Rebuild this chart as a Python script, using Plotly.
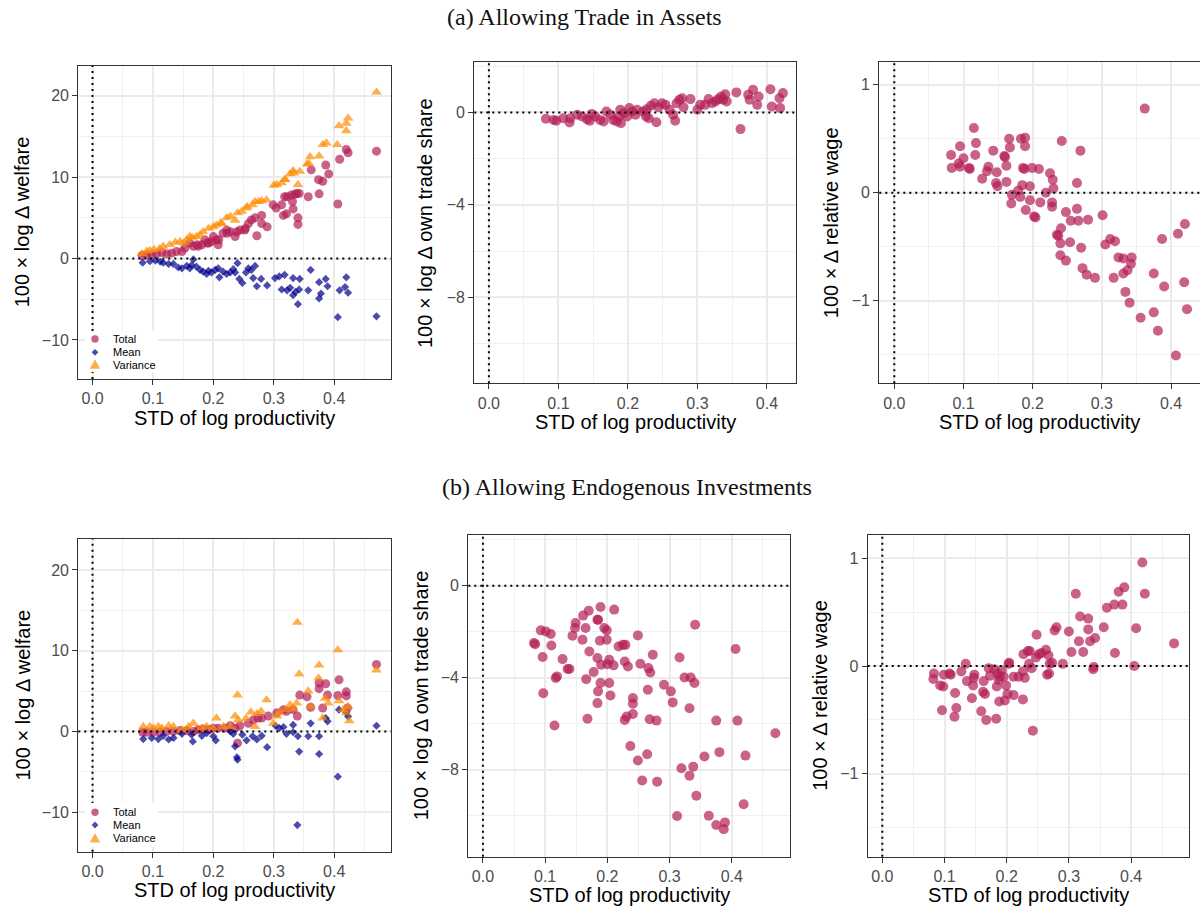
import plotly.graph_objects as go

W, H = 1200, 909

# ---------------- DATA ----------------
# (a) Allowing Trade in Assets -- welfare decomposition
a_wel_total_x = [0.47, 0.42, 0.423, 0.409, 0.406, 0.391, 0.386, 0.381, 0.374, 0.375, 0.362, 0.357,
                 0.34, 0.34, 0.342, 0.335, 0.329, 0.332, 0.331, 0.321, 0.316, 0.318, 0.313, 0.304,
                 0.299, 0.289, 0.28, 0.28, 0.272, 0.269, 0.263, 0.258, 0.252, 0.244, 0.239, 0.236,
                 0.228, 0.222, 0.216, 0.208, 0.205, 0.2, 0.197, 0.192, 0.186, 0.181, 0.175, 0.167,
                 0.161, 0.153, 0.148, 0.139, 0.131, 0.123, 0.115, 0.106, 0.098, 0.09, 0.082,
                 0.253, 0.223, 0.209, 0.19, 0.173, 0.338, 0.322]
a_wel_total_y = [13.2, 13.4, 13.0, 12.2, 6.7, 10.4, 11.5, 9.5, 9.7, 7.95, 10.9, 7.6,
                 4.2, 5.0, 8.0, 7.9, 7.8, 6.1, 7.0, 5.5, 5.3, 7.6, 6.6, 6.2,
                 6.6, 3.9, 5.3, 4.3, 2.8, 5.0, 4.75, 4.3, 3.5, 3.5, 3.3, 2.7,
                 3.3, 3.5, 3.1, 1.7, 2.3, 2.7, 2.1, 1.9, 2.3, 1.7, 1.5, 1.5,
                 1.9, 1.3, 0.86, 0.86, 0.66, 0.57, 0.74, 0.57, 0.49, 0.45, 0.37,
                 3.7, 3.1, 2.3, 1.9, 1.7, 8.0, 7.6]
a_wel_mean_x = [0.47, 0.406, 0.42, 0.418, 0.423, 0.409, 0.389, 0.386, 0.378, 0.375, 0.375, 0.361,
                0.357, 0.34, 0.342, 0.336, 0.332, 0.343, 0.332, 0.327, 0.318, 0.313, 0.322, 0.309,
                0.302, 0.289, 0.279, 0.272, 0.269, 0.266, 0.263, 0.258, 0.254, 0.248, 0.243, 0.24,
                0.236, 0.233, 0.228, 0.222, 0.216, 0.21, 0.208, 0.203, 0.197, 0.192, 0.189, 0.183,
                0.178, 0.172, 0.167, 0.164, 0.161, 0.156, 0.148, 0.142, 0.134, 0.126, 0.117, 0.112,
                0.104, 0.095, 0.083]
a_wel_mean_y = [-7.1, -7.2, -2.3, -3.5, -4.2, -3.9, -3.4, -2.5, -4.3, -4.9, -2.9, -1.4,
                -3.9, -5.6, -3.8, -4.1, -4.5, -2.5, -2.4, -3.6, -2.0, -3.8, -3.9, -2.2,
                -2.4, -3.3, -2.5, -3.4, -0.9, -2.4, -1.4, -1.2, -1.7, -3.0, -2.5, -0.57,
                -1.7, -1.3, -1.7, -1.9, -1.6, -2.3, -1.2, -1.4, -1.7, -1.5, -1.9, -1.6,
                -1.4, -1.0, -0.1, -0.8, -1.2, -0.9, -1.2, -1.1, -0.66, -0.66, -0.5, -0.37,
                -0.25, -0.33, -0.5]
a_wel_var_x = [0.47, 0.423, 0.42, 0.408, 0.42, 0.405, 0.387, 0.381, 0.375, 0.36, 0.355, 0.343,
               0.332, 0.327, 0.318, 0.34, 0.313, 0.30, 0.288, 0.28, 0.269, 0.265, 0.255, 0.247,
               0.24, 0.236, 0.228, 0.222, 0.214, 0.205, 0.2, 0.192, 0.183, 0.178, 0.172, 0.161,
               0.156, 0.145, 0.137, 0.128, 0.117, 0.111, 0.102, 0.095, 0.09, 0.082,
               0.165, 0.151, 0.212, 0.256, 0.275, 0.305, 0.319, 0.333, 0.358]
a_wel_var_y = [20.45, 17.25, 16.6, 16.3, 15.7, 14.0, 14.2, 14.0, 12.6, 12.5, 11.6, 10.7,
               10.8, 10.4, 9.7, 9.1, 9.3, 9.0, 7.2, 7.1, 7.0, 6.6, 6.2, 5.8,
               5.6, 4.7, 5.2, 5.0, 4.3, 4.1, 3.9, 3.7, 3.3, 2.9, 2.7, 2.7,
               2.3, 2.1, 2.0, 1.7, 1.5, 1.2, 1.1, 1.0, 0.9, 0.6,
               2.6, 1.9, 4.4, 6.4, 7.0, 9.1, 9.7, 10.5, 11.7]

# (a) own trade share
a_share_x = [0.082, 0.093, 0.097, 0.107, 0.116, 0.117, 0.127, 0.134, 0.141, 0.145, 0.148, 0.153,
             0.16, 0.165, 0.169, 0.175, 0.179, 0.184, 0.187, 0.189, 0.19, 0.194, 0.199, 0.202,
             0.206, 0.211, 0.213, 0.222, 0.226, 0.227, 0.23, 0.233, 0.238, 0.241, 0.244, 0.249,
             0.254, 0.26, 0.265, 0.268, 0.27, 0.274, 0.278, 0.28, 0.29, 0.3, 0.304, 0.311,
             0.316, 0.321, 0.326, 0.33, 0.334, 0.337, 0.34, 0.342, 0.356, 0.362, 0.373, 0.375,
             0.38, 0.388, 0.386, 0.405, 0.407, 0.419, 0.418, 0.423]
a_share_y = [-0.27, -0.32, -0.36, -0.25, -0.43, -0.25, -0.1, -0.17, -0.29, -0.36, -0.06, -0.17,
             -0.32, -0.39, 0.04, -0.1, -0.32, -0.39, -0.17, 0.12, -0.46, -0.03, -0.17, 0.19,
             0.04, -0.1, 0.12, 0.04, -0.17, 0.14, -0.25, 0.29, 0.4, -0.42, 0.23, 0.4,
             0.33, 0.12, -0.1, -0.36, 0.4, 0.55, 0.62, 0.23, 0.58, 0.12, 0.33, 0.33,
             0.58, 0.4, 0.48, 0.58, 0.69, 0.55, 0.79, 0.48, 0.87, -0.72, 0.77, 0.55,
             0.98, 0.69, 0.33, 1.01, 0.26, 0.19, 0.62, 0.84]

# (a) relative wage
a_wage_x = [0.082, 0.083, 0.095, 0.093, 0.1, 0.095, 0.108, 0.109, 0.115, 0.118, 0.117, 0.127,
            0.136, 0.134, 0.143, 0.148, 0.147, 0.149, 0.159, 0.16, 0.162, 0.162, 0.166, 0.167,
            0.17, 0.169, 0.179, 0.182, 0.183, 0.189, 0.186, 0.188, 0.189, 0.185, 0.19, 0.196,
            0.196, 0.199, 0.202, 0.204, 0.209, 0.211, 0.219, 0.225, 0.229, 0.23, 0.228, 0.228,
            0.242, 0.241, 0.235, 0.237, 0.24, 0.24, 0.248, 0.248, 0.254, 0.255, 0.264, 0.264,
            0.266, 0.269, 0.27, 0.272, 0.278, 0.28, 0.29, 0.301, 0.305, 0.312, 0.319, 0.317,
            0.324, 0.331, 0.331, 0.337, 0.342, 0.343, 0.334, 0.34, 0.356, 0.362, 0.375, 0.375,
            0.381, 0.387, 0.39, 0.407, 0.41, 0.42, 0.419, 0.423]
a_wage_y = [0.35, 0.23, 0.43, 0.27, 0.32, 0.24, 0.23, 0.22, 0.6, 0.46, 0.35, 0.13,
            0.24, 0.2, 0.39, 0.19, 0.09, 0.06, 0.34, 0.33, 0.25, 0.1, 0.5, 0.42,
            -0.02, -0.1, 0.02, -0.04, 0.5, 0.51, 0.23, 0.22, 0.43, 0.07, -0.16, 0.06,
            -0.07, 0.23, -0.22, -0.23, 0.22, -0.09, 0.0, 0.18, 0.12, 0.04, -0.09, -0.13,
            0.48, -0.33, -0.39, -0.4, -0.47, -0.58, -0.18, -0.63, -0.46, -0.26, 0.09, -0.15,
            -0.26, 0.39, -0.51, -0.7, -0.76, -0.25, -0.79, -0.21, -0.48, -0.43, -0.45, -0.79,
            -0.6, -0.61, -0.75, -0.72, -0.66, -0.6, -0.92, -1.02, -1.16, 0.78, -0.75, -1.11,
            -1.28, -0.43, -0.87, -1.51, -0.38, -0.29, -0.83, -1.08]

# (b) Allowing Endogenous Investments -- welfare decomposition
b_wel_total_x = [0.47, 0.408, 0.42, 0.42, 0.406, 0.422, 0.389, 0.386, 0.375, 0.375, 0.381, 0.361,
                 0.343, 0.355, 0.339, 0.332, 0.321, 0.316, 0.305, 0.291, 0.28, 0.274, 0.266, 0.258,
                 0.24, 0.244, 0.236, 0.228, 0.219, 0.208, 0.2, 0.192, 0.183, 0.175, 0.167, 0.156,
                 0.145, 0.134, 0.123, 0.112, 0.101, 0.09, 0.083]
b_wel_total_y = [8.3, 6.4, 4.9, 4.4, 4.45, 2.9, 4.5, 5.9, 6.0, 5.3, 2.9, 3.0,
                 4.5, 4.3, 1.9, 2.7, 2.5, 2.7, 2.3, 1.9, 1.65, 1.65, 1.4, 1.0,
                 -1.45, 0.7, 0.4, 0.7, 0.4, 0.4, 0.4, 0.2, 0.3, 0.2, 0.0, 0.1,
                 0.1, 0.0, 0.0, -0.1, -0.1, -0.1, -0.1]
b_wel_mean_x = [0.47, 0.339, 0.406, 0.408, 0.42, 0.423, 0.389, 0.386, 0.375, 0.375, 0.361, 0.357,
                0.342, 0.34, 0.332, 0.332, 0.321, 0.316, 0.309, 0.303, 0.289, 0.28, 0.272, 0.265,
                0.255, 0.248, 0.24, 0.239, 0.236, 0.233, 0.228, 0.204, 0.2, 0.189, 0.181, 0.166,
                0.164, 0.148, 0.134, 0.126, 0.117, 0.109, 0.098, 0.084]
b_wel_mean_y = [0.7, -11.6, -5.6, 2.7, 2.35, 1.85, 1.25, 1.65, -0.6, -2.8, 1.0, -0.6,
                -2.5, -0.6, -0.1, 0.8, -0.3, 0.55, 0.4, 0.7, -1.95, -0.55, -1.0, -0.6,
                -1.1, -0.4, -3.5, -3.2, -1.85, -0.3, 0.0, -1.1, -0.6, -0.2, -0.55, -1.25,
                -0.4, -0.3, -0.8, -1.0, -0.55, -0.95, -0.8, -0.95]
b_wel_var_x = [0.47, 0.339, 0.406, 0.375, 0.342, 0.374, 0.357, 0.385, 0.39, 0.408, 0.361, 0.381,
               0.338, 0.332, 0.327, 0.32, 0.31, 0.305, 0.299, 0.288, 0.279, 0.272, 0.262, 0.269,
               0.254, 0.24, 0.236, 0.241, 0.228, 0.217, 0.205, 0.2, 0.189, 0.181, 0.167, 0.159,
               0.148, 0.134, 0.126, 0.115, 0.109, 0.101, 0.095, 0.084, 0.423, 0.42, 0.425, 0.415]
b_wel_var_y = [7.6, 13.5, 10.1, 8.2, 7.1, 6.6, 5.0, 4.1, 3.5, 3.8, 3.1, 1.65,
               3.5, 2.8, 3.3, 2.7, 2.3, 1.9, 1.0, 3.9, 2.5, 2.2, 2.4, 0.6,
               1.6, 4.5, 1.9, 1.4, 0.6, 0.6, 1.65, 0.4, 0.6, 0.4, 1.0, 0.6,
               0.2, 0.6, 0.7, 0.4, 0.6, 0.4, 0.6, 0.6, 3.1, 2.3, 1.3, 2.7]

# (b) own trade share
b_share_x = [0.082, 0.084, 0.093, 0.101, 0.109, 0.096, 0.097, 0.11, 0.117, 0.119, 0.115, 0.128,
             0.136, 0.139, 0.144, 0.149, 0.148, 0.16, 0.161, 0.165, 0.17, 0.171, 0.166, 0.168,
             0.178, 0.184, 0.185, 0.184, 0.185, 0.184, 0.189, 0.188, 0.189, 0.19, 0.195, 0.199,
             0.199, 0.2, 0.203, 0.203, 0.205, 0.21, 0.211, 0.218, 0.225, 0.228, 0.229, 0.233,
             0.228, 0.231, 0.237, 0.241, 0.241, 0.241, 0.249, 0.249, 0.253, 0.256, 0.264, 0.265,
             0.266, 0.269, 0.268, 0.273, 0.279, 0.28, 0.291, 0.302, 0.305, 0.312, 0.316, 0.319,
             0.324, 0.332, 0.332, 0.334, 0.338, 0.34, 0.341, 0.343, 0.356, 0.363, 0.375, 0.375,
             0.38, 0.387, 0.389, 0.406, 0.409, 0.419, 0.422, 0.47]
b_share_y = [-2.49, -2.54, -1.94, -1.99, -2.1, -3.1, -4.67, -2.6, -4.01, -3.94, -6.07, -3.19,
             -3.62, -3.62, -2.17, -1.62, -1.84, -2.35, -1.3, -1.84, -1.09, -2.86, -4.06, -5.78,
             -3.75, -1.48, -1.48, -3.14, -4.59, -5.1, -0.93, -2.39, -4.23, -3.43, -1.84, -2.35,
             -1.94, -3.41, -3.22, -4.23, -4.77, -3.46, -1.04, -2.64, -2.57, -3.29, -2.57, -3.51,
             -5.83, -5.68, -6.96, -4.88, -5.13, -5.57, -7.59, -2.16, -3.39, -8.46, -7.32, -4.52,
             -3.58, -3.77, -5.8, -3.0, -5.86, -8.51, -4.3, -4.59, -5.07, -10.0, -3.12, -7.93,
             -3.99, -5.32, -8.25, -3.99, -7.86, -4.23, -1.7, -9.12, -7.42, -9.99, -5.86, -10.39,
             -7.23, -10.58, -10.28, -2.75, -5.86, -9.49, -7.38, -6.41]

# (b) relative wage
b_wage_x = [0.082, 0.083, 0.093, 0.098, 0.096, 0.099, 0.108, 0.11, 0.116, 0.117, 0.119, 0.127,
            0.134, 0.136, 0.144, 0.147, 0.148, 0.146, 0.159, 0.162, 0.163, 0.165, 0.167, 0.171,
            0.173, 0.18, 0.183, 0.185, 0.184, 0.187, 0.189, 0.188, 0.192, 0.195, 0.197, 0.199,
            0.203, 0.204, 0.201, 0.211, 0.211, 0.219, 0.226, 0.226, 0.227, 0.229, 0.234, 0.237,
            0.236, 0.24, 0.242, 0.247, 0.248, 0.252, 0.256, 0.263, 0.267, 0.265, 0.268, 0.269,
            0.273, 0.277, 0.28, 0.29, 0.3, 0.304, 0.311, 0.316, 0.318, 0.323, 0.331, 0.331,
            0.334, 0.339, 0.34, 0.342, 0.356, 0.361, 0.373, 0.374, 0.38, 0.386, 0.389, 0.405,
            0.408, 0.418, 0.422, 0.469]
b_wage_y = [-0.12, -0.07, -0.18, -0.19, -0.41, -0.08, -0.07, -0.08, -0.47, -0.25, -0.39, -0.05,
            0.02, -0.14, -0.3, -0.11, -0.08, -0.18, -0.42, -0.24, -0.14, -0.26, -0.5, -0.02,
            -0.09, -0.03, -0.49, -0.07, -0.19, -0.13, -0.1, -0.33, -0.04, -0.1, -0.32, -0.18,
            0.02, 0.03, -0.26, -0.27, -0.1, -0.1, -0.31, -0.05, 0.11, -0.11, 0.14, 0.14,
            0.02, -0.02, -0.6, 0.08, 0.29, 0.11, 0.12, 0.15, 0.1, -0.08, -0.07, 0.02,
            0.03, 0.33, 0.36, 0.02, 0.32, 0.13, 0.67, 0.23, 0.46, 0.13, 0.44, 0.34,
            0.23, -0.03, -0.01, 0.26, 0.36, 0.54, 0.57, 0.12, 0.69, 0.57, 0.73, 0.0,
            0.35, 0.96, 0.67, 0.21]

# tick labels / text
x_tick_vals = [0.0, 0.1, 0.2, 0.3, 0.4]
x_tick_text = ["0.0", "0.1", "0.2", "0.3", "0.4"]
series_names = ["Total", "Mean", "Variance"]
x_title = "STD of log productivity"
y_titles = ["100 × log Δ welfare", "100 × log Δ own trade share", "100 × Δ relative wage"]
row_titles = ["(a) Allowing Trade in Assets", "(b) Allowing Endogenous Investments"]

# ---------------- STYLE ----------------
C_TOTAL = "rgba(180,30,85,0.7)"
C_MEAN = "rgba(0,0,139,0.7)"
C_VAR = "rgba(255,140,0,0.7)"
SANS = "Liberation Sans, Arial, Helvetica, sans-serif"
SERIF = "Liberation Serif, Times New Roman, serif"


def fx(p):
    return p / W


def fy(p):
    return 1 - p / H


# panel boxes in pixels: (left, right, top, bottom)
boxes = {
    1: (78.3, 390.7, 65.7, 379.0),
    2: (474.3, 796.0, 61.7, 383.3),
    3: (879.3, 1200.0, 61.7, 383.3),
    4: (78.3, 390.7, 539.3, 851.7),
    5: (468.3, 790.0, 535.0, 856.7),
    6: (867.7, 1189.3, 535.0, 856.7),
}
xranges = {1: [-0.0235, 0.4935], 2: [-0.021, 0.4418], 3: [-0.0217, 0.4418],
           4: [-0.0235, 0.4935], 5: [-0.0235, 0.4935], 6: [-0.0235, 0.4935]}
yranges = {1: [-14.8, 23.7], 2: [-11.73, 2.2], 3: [-1.768, 1.215],
           4: [-14.9, 23.8], 5: [-11.77, 2.2], 6: [-1.77, 1.216]}
ydticks = {1: (10, 5), 2: (4, 2), 3: (1, 0.5), 4: (10, 5), 5: (4, 2), 6: (1, 0.5)}

fig = go.Figure()


def ax(i, kind):
    return kind if i == 1 else f"{kind}{i}"


def add_scatter(i, xs, ys, color, symbol, size, name):
    fig.add_trace(go.Scatter(
        x=xs, y=ys, mode="markers", name=name, showlegend=False,
        xaxis=ax(i, "x"), yaxis=ax(i, "y"),
        marker=dict(color=color, symbol=symbol, size=size, line=dict(width=0)),
        hoverinfo="x+y"))


# welfare panels: total, mean, variance
add_scatter(1, a_wel_total_x, a_wel_total_y, C_TOTAL, "circle", 9, series_names[0])
add_scatter(1, a_wel_mean_x, a_wel_mean_y, C_MEAN, "diamond", 6.3, series_names[1])
add_scatter(1, a_wel_var_x, a_wel_var_y, C_VAR, "triangle-up", 9.5, series_names[2])
add_scatter(4, b_wel_total_x, b_wel_total_y, C_TOTAL, "circle", 9, series_names[0])
add_scatter(4, b_wel_mean_x, b_wel_mean_y, C_MEAN, "diamond", 6.3, series_names[1])
add_scatter(4, b_wel_var_x, b_wel_var_y, C_VAR, "triangle-up", 9.5, series_names[2])
add_scatter(2, a_share_x, a_share_y, C_TOTAL, "circle", 10, "own trade share")
add_scatter(3, a_wage_x, a_wage_y, C_TOTAL, "circle", 10, "relative wage")
add_scatter(5, b_share_x, b_share_y, C_TOTAL, "circle", 10, "own trade share")
add_scatter(6, b_wage_x, b_wage_y, C_TOTAL, "circle", 10, "relative wage")

layout = dict(width=W, height=H, margin=dict(l=0, r=0, t=0, b=0),
              paper_bgcolor="white", plot_bgcolor="white", showlegend=False)

annotations = []
shapes = []

for i, (l, r, t, b) in boxes.items():
    mirror_y = (i != 3)
    xa = dict(domain=[fx(l), min(fx(r), 1.0)], range=xranges[i], anchor=ax(i, "y"),
              tickvals=x_tick_vals, ticktext=x_tick_text,
              showgrid=True, gridcolor="#EBEBEB", gridwidth=1.6,
              minor=dict(dtick=0.05, tick0=0, showgrid=True, gridcolor="#F0F0F0", gridwidth=0.8),
              zeroline=False, showline=True, linecolor="#333333", linewidth=1.2, mirror=True,
              ticks="outside", ticklen=5, tickwidth=1.1, tickcolor="#333333",
              tickfont=dict(family=SANS, size=16, color="#4D4D4D"))
    dt, mdt = ydticks[i]
    ya = dict(domain=[fy(b), fy(t)], range=yranges[i], anchor=ax(i, "x"),
              dtick=dt, tick0=0,
              showgrid=True, gridcolor="#EBEBEB", gridwidth=1.6,
              minor=dict(dtick=mdt, tick0=0, showgrid=True, gridcolor="#F0F0F0", gridwidth=0.8),
              zeroline=False, showline=True, linecolor="#333333", linewidth=1.2, mirror=mirror_y,
              ticks="outside", ticklen=5, tickwidth=1.1, tickcolor="#333333",
              tickfont=dict(family=SANS, size=16, color="#4D4D4D"))
    layout["xaxis" if i == 1 else f"xaxis{i}"] = xa
    layout["yaxis" if i == 1 else f"yaxis{i}"] = ya

    # dotted reference lines at zero
    xr = ax(i, "x")
    yr = ax(i, "y")
    shapes.append(dict(type="line", xref=f"{xr} domain", yref=yr, x0=0, x1=1, y0=0, y1=0,
                       line=dict(color="black", width=2, dash="2px,4px"), layer="above"))
    shapes.append(dict(type="line", xref=xr, yref=f"{yr} domain", x0=0, x1=0, y0=0, y1=1,
                       line=dict(color="black", width=2, dash="2px,4px"), layer="above"))

    # axis titles
    cx = (l + r) / 2
    annotations.append(dict(text=x_title, x=fx(cx), y=fy(b + 38.5), xref="paper", yref="paper",
                            xanchor="center", yanchor="middle", showarrow=False,
                            font=dict(family=SANS, size=20, color="black")))

ytitle_x = {1: 22, 2: 425.5, 3: 831.7, 4: 22, 5: 420.5, 6: 820}
for i, (l, r, t, b) in boxes.items():
    annotations.append(dict(text=y_titles[(i - 1) % 3], x=fx(ytitle_x[i]), y=fy((t + b) / 2),
                            xref="paper", yref="paper", xanchor="center", yanchor="middle",
                            textangle=-90, showarrow=False,
                            font=dict(family=SANS, size=20, color="black")))

# row titles
annotations.append(dict(text=row_titles[0], x=fx(584), y=fy(17), xref="paper", yref="paper",
                        xanchor="center", yanchor="middle", showarrow=False,
                        font=dict(family=SERIF, size=24, color="#111111")))
annotations.append(dict(text=row_titles[1], x=fx(627), y=fy(487), xref="paper", yref="paper",
                        xanchor="center", yanchor="middle", showarrow=False,
                        font=dict(family=SERIF, size=24, color="#111111")))


# in-panel legends (welfare panels)
def legend(box_top, box_bottom, rows):
    shapes.append(dict(type="rect", xref="paper", yref="paper",
                       x0=fx(85), x1=fx(158), y0=fy(box_bottom), y1=fy(box_top),
                       fillcolor="white", line=dict(width=0), layer="above"))
    kx = 95.0
    r0 = 3.7
    shapes.append(dict(type="circle", xref="paper", yref="paper",
                       x0=fx(kx - r0), x1=fx(kx + r0), y0=fy(rows[0] + r0), y1=fy(rows[0] - r0),
                       fillcolor=C_TOTAL, line=dict(width=0), layer="above"))
    d = 3.4
    cy = rows[1]
    shapes.append(dict(type="path", xref="paper", yref="paper",
                       path=f"M {fx(kx - d)},{fy(cy)} L {fx(kx)},{fy(cy - d)} L {fx(kx + d)},{fy(cy)} L {fx(kx)},{fy(cy + d)} Z",
                       fillcolor=C_MEAN, line=dict(width=0), layer="above"))
    tw = 5.3
    cy = rows[2]
    shapes.append(dict(type="path", xref="paper", yref="paper",
                       path=f"M {fx(kx - tw)},{fy(cy + 4.3)} L {fx(kx + tw)},{fy(cy + 4.3)} L {fx(kx)},{fy(cy - 5)} Z",
                       fillcolor=C_VAR, line=dict(width=0), layer="above"))
    for name, ry in zip(series_names, rows):
        annotations.append(dict(text=name, x=fx(110.5), y=fy(ry), xref="paper", yref="paper",
                                xanchor="left", yanchor="middle", showarrow=False,
                                font=dict(family=SANS, size=11, color="black")))


legend(331, 372, [339.0, 352.3, 364.5])
legend(803, 847, [812.3, 825.0, 838.3])

layout["annotations"] = annotations
layout["shapes"] = shapes
fig.update_layout(**layout)

fig.write_html("out.html")
